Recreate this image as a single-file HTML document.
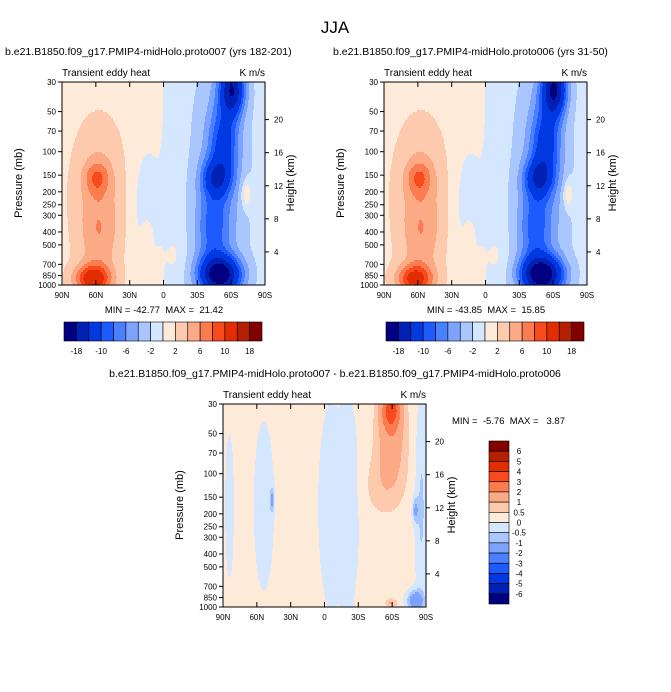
<!DOCTYPE html>
<html><head><meta charset="utf-8"><style>
body{margin:0;background:#fff;width:671px;height:692px;overflow:hidden;font-family:"Liberation Sans",sans-serif}
#root{position:relative;width:671px;height:692px}
svg{position:absolute;left:0;top:0}
text{white-space:pre;font-family:"Liberation Sans",sans-serif}
</style></head><body><div id="root">
<svg id="s" width="671" height="692" xmlns="http://www.w3.org/2000/svg">
<g id="contours"></g>
<g id="axes"></g>
<text x="335" y="33" font-size="17" text-anchor="middle">JJA</text>
<text x="5" y="55" font-size="10.5">b.e21.B1850.f09_g17.PMIP4-midHolo.proto007 (yrs 182-201)</text>
<text x="333" y="55" font-size="10.5">b.e21.B1850.f09_g17.PMIP4-midHolo.proto006 (yrs 31-50)</text>
<text x="335" y="377" font-size="10.5" text-anchor="middle">b.e21.B1850.f09_g17.PMIP4-midHolo.proto007 - b.e21.B1850.f09_g17.PMIP4-midHolo.proto006</text>
<text x="164" y="313" font-size="9.5" text-anchor="middle">MIN = -42.77  MAX =  21.42</text>
<text x="486" y="313" font-size="9.5" text-anchor="middle">MIN = -43.85  MAX =  15.85</text>
<text x="452" y="424" font-size="9.5">MIN =  -5.76  MAX =   3.87</text>
</svg>
</div>
<script>
// ---- data ----
var latLabels=["90N","60N","30N","0","30S","60S","90S"];
var presTicks=[30,50,70,100,150,200,250,300,400,500,700,850,1000];
var heightTicks=[4,8,12,16,20];
var levelsTop=[-18,-14,-10,-8,-6,-4,-2,0,2,4,6,8,10,14,18];
var labelsTop=["-18","-10","-6","-2","2","6","10","18"];
var levelsDiff=[-6,-5,-4,-3,-2,-1,-0.5,0,0.5,1,2,3,4,5,6];
var labelsDiff=["6","5","4","3","2","1","0.5","0","-0.5","-1","-2","-3","-4","-5","-6"];
var colors=["#000080","#0021b4","#0038e2","#1e5bff","#4a80ff","#7ca3ff","#aac6ff","#d5e7ff","#feead9","#fdcaae","#fca985","#fb7d4f","#f74b1d","#e12d00","#b41f00","#820000"];
// blobs: [u(0=90N..1=90S), v(0=30mb..1=1000mb), amplitude, su, sv]
var blobsLeft=[[0.17,0.47,4.2,0.06,0.08],[0.15,0.97,10,0.09,0.07],[0.18,0.78,2.5,0.09,0.2],[0.18,0.5,2,0.12,0.3],[0.18,0.62,1.5,0.14,0.4],
[0.84,0.03,-15,0.06,0.13],[0.8,0.3,-7,0.07,0.18],[0.76,0.47,-8,0.07,0.09],[0.78,0.95,-18,0.1,0.09],[0.74,0.72,-5,0.08,0.2],[0.78,0.5,-4,0.12,0.6],
[0.42,0.6,-2.5,0.08,0.3],[0.42,0.73,1.5,0.03,0.08],[0.55,0.85,1.5,0.05,0.12],[0.91,0.55,4,0.025,0.07]];
var blobsRight=[[0.17,0.47,4.2,0.06,0.08],[0.15,0.97,9,0.09,0.07],[0.18,0.78,2.5,0.09,0.2],[0.18,0.5,2,0.12,0.3],[0.18,0.62,1.5,0.14,0.4],
[0.84,0.03,-16,0.06,0.13],[0.8,0.3,-7.5,0.07,0.18],[0.76,0.47,-8,0.07,0.09],[0.78,0.95,-19,0.1,0.09],[0.74,0.72,-5,0.08,0.2],[0.78,0.5,-4,0.12,0.6],
[0.42,0.6,-2.5,0.08,0.3],[0.42,0.73,1.5,0.03,0.08],[0.55,0.85,1.5,0.05,0.12],[0.91,0.55,4,0.025,0.07]];
var blobsDiff=[[0.83,0.02,3.0,0.05,0.1],[0.83,0.18,1.3,0.07,0.18],[0.8,0.4,0.6,0.1,0.15],
[0.2,0.5,-0.6,0.06,0.5],[0.52,0.5,-0.6,0.06,0.5],[0.62,0.5,-0.6,0.05,0.5],[0.98,0.5,-0.8,0.03,0.5],
[0.03,0.5,-0.5,0.03,0.5],[0.95,0.97,-2,0.04,0.05],[0.24,0.47,-1.2,0.01,0.06],[0.95,0.52,-1.2,0.015,0.06],[0.83,0.98,0.9,0.03,0.02]];
var baseLeft=[1.2,-1.2], baseRight=[1.2,-1.2], baseDiff=[0.3,0.2];
// ---- drawing ----
var NS="http://www.w3.org/2000/svg";
var CG=document.getElementById('contours'), AG=document.getElementById('axes');
function field(u,v,blobs,base){
 var b=base[0]+(base[1]-base[0])/(1+Math.exp(-(u-0.5)/0.015));
 for(var i=0;i<blobs.length;i++){var k=blobs[i];var du=(u-k[0])/k[3],dv=(v-k[1])/k[4];b+=k[2]*Math.exp(-du*du-dv*dv);}
 return b;}
function mk(parent,t,a,txt){var e=document.createElementNS(NS,t);for(var k in a){if(a.hasOwnProperty(k))e.setAttribute(k,String(a[k]));}
 if(txt!==undefined)e.appendChild(document.createTextNode(String(txt)));parent.appendChild(e);return e;}
function lab(e,n){return e;}
function bin(f,levels){var i=0;while(i<levels.length&&f>=levels[i])i++;return i;}
function paint(x0,y0,blobs,base,levels,nm){
 var g=mk(CG,'g',{});lab(g,nm);
 var step=2,N=203;
 for(var y=0;y<N;y+=step){var start=0,cur=bin(field(0,y/202,blobs,base),levels);
  for(var x=1;x<=N;x++){var b=x<N?bin(field(x/202,y/202,blobs,base),levels):-1;
   if(b!==cur){mk(g,'rect',{x:x0+start,y:y0+y,width:x-start+0.6,height:Math.min(step,N-y)+0.6,fill:colors[cur]});start=x;cur=b;}}}
}
function py(p,y0){return y0+Math.log(p/30)/Math.log(1000/30)*203;}
function axes(x0,y0,nm){
 lab(mk(AG,'rect',{x:x0,y:y0,width:203,height:203,fill:'none',stroke:'#000','stroke-width':1}),nm+'-frame');
 var i,x,y,p;
 for(i=0;i<latLabels.length;i++){x=x0+i*203/6;mk(AG,'line',{x1:x,x2:x,y1:y0+203,y2:y0+198,stroke:'#000'});mk(AG,'line',{x1:x,x2:x,y1:y0,y2:y0+5,stroke:'#000'});
  lab(mk(AG,'text',{x:x,y:y0+216,'font-size':8,'text-anchor':'middle'},latLabels[i]),'x-tick-label');}
 for(i=0;i<presTicks.length;i++){y=py(presTicks[i],y0);mk(AG,'line',{x1:x0,x2:x0-4,y1:y,y2:y,stroke:'#000'});
  lab(mk(AG,'text',{x:x0-6,y:y+3,'font-size':8,'text-anchor':'end'},presTicks[i]),'y-tick-label');}
 for(i=0;i<heightTicks.length;i++){p=1000*Math.exp(-heightTicks[i]/7);y=py(p,y0);mk(AG,'line',{x1:x0+203,x2:x0+207,y1:y,y2:y,stroke:'#000'});
  lab(mk(AG,'text',{x:x0+212,y:y+3,'font-size':8},heightTicks[i]),'height-tick-label');}
 lab(mk(AG,'text',{x:x0-40,y:y0+101,'font-size':11,'text-anchor':'middle',transform:'rotate(-90 '+(x0-40)+' '+(y0+101)+')'},'Pressure (mb)'),'y-axis-title');
 lab(mk(AG,'text',{x:x0+232,y:y0+101,'font-size':11,'text-anchor':'middle',transform:'rotate(-90 '+(x0+232)+' '+(y0+101)+')'},'Height (km)'),'y2-axis-title');
 lab(mk(AG,'text',{x:x0,y:y0-6,'font-size':10},'Transient eddy heat'),'panel-subtitle');
 lab(mk(AG,'text',{x:x0+203,y:y0-6,'font-size':10,'text-anchor':'end'},'K m/s'),'units-label');
}
function hbar(x0,y0){var w=198/16,i;for(i=0;i<colors.length;i++){lab(mk(AG,'rect',{x:x0+i*w,y:y0,width:w,height:19,fill:colors[i],stroke:'#000','stroke-width':0.6}),'colorbar-box');}
 for(i=0;i<labelsTop.length;i++){lab(mk(AG,'text',{x:x0+(1+2*i)*w,y:y0+32,'font-size':8,'text-anchor':'middle'},labelsTop[i]),'colorbar-label');}}
function vbar(x0,y0){var h=163/16,i;for(i=0;i<colors.length;i++){lab(mk(AG,'rect',{x:x0,y:y0+i*h,width:20,height:h,fill:colors[colors.length-1-i],stroke:'#000','stroke-width':0.6}),'colorbar-box');}
 for(i=0;i<labelsDiff.length;i++){lab(mk(AG,'text',{x:x0+30,y:y0+(i+1)*h+3,'font-size':8,'text-anchor':'middle'},labelsDiff[i]),'colorbar-label');}}
try{paint(62,82,blobsLeft,baseLeft,levelsTop,'contour-left');}catch(e){}
try{paint(384,82,blobsRight,baseRight,levelsTop,'contour-right');}catch(e){}
try{paint(223,404,blobsDiff,baseDiff,levelsDiff,'contour-diff');}catch(e){}
try{axes(62,82,'left');axes(384,82,'right');axes(223,404,'diff');}catch(e){}
try{hbar(64,322);hbar(386,322);vbar(489,441);}catch(e){}
</script></body></html>
